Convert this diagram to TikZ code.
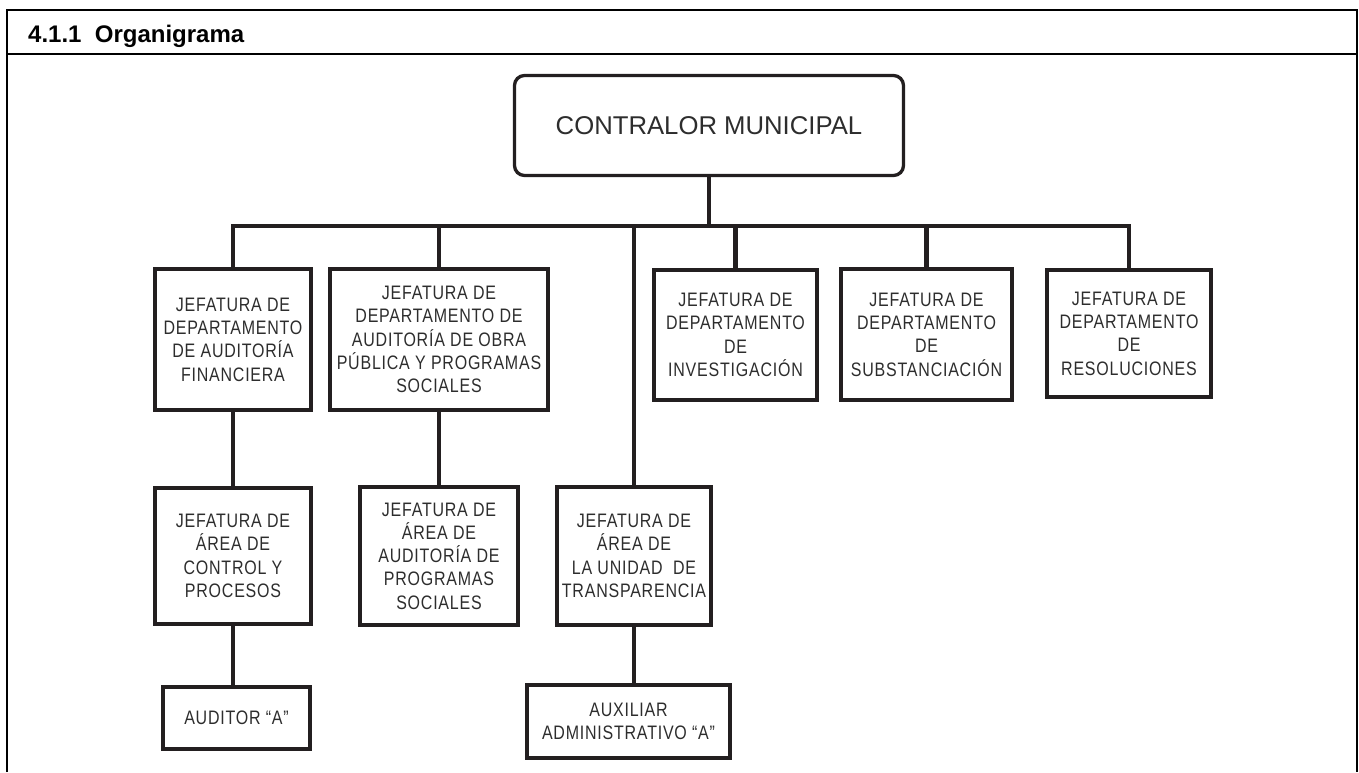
\documentclass[tikz,border=0pt]{standalone}
\usepackage{fontspec}
\setmainfont{Liberation Sans}
\newfontfamily\estrecha[FakeStretch=0.82,LetterSpace=4]{Liberation Sans}
\definecolor{linea}{RGB}{35,31,32}
\definecolor{texto}{RGB}{45,45,45}

\begin{document}
\begin{tikzpicture}[x=1pt,y=-1pt,
	marco/.style={draw=black,line width=2.7pt},
	rama/.style={draw=linea,line width=4.5pt},
	puesto/.style={draw=linea,line width=4pt,inner sep=0pt,align=center,text=texto,
		font=\estrecha\fontsize{19.5}{23.3}\selectfont},
	titular/.style={puesto,line width=3.3pt,rounded corners=10pt,
		font=\fontsize{25.7}{30}\selectfont}]
\useasboundingbox (0,0) rectangle (1359,772);
\draw[marco] (7,772) -- (7,10) -- (1357,10) -- (1357,772);
\draw[marco] (7,54) -- (1357,54);
\node[anchor=base west,inner sep=0pt,font=\fontsize{24}{28}\selectfont\bfseries] (titulo) at (28,42) {4.1.1~~Organigrama};

\node[titular,minimum width=389pt,minimum height=100pt] (contralor) at (709,125.5) {CONTRALOR MUNICIPAL};

\node[puesto,minimum width=156pt,minimum height=141pt] (financiera) at (233,339.5)
	{JEFATURA DE\\DEPARTAMENTO\\DE AUDITORÍA\\FINANCIERA};
\node[puesto,minimum width=218pt,minimum height=141pt] (obra) at (439,339.5)
	{JEFATURA DE\\DEPARTAMENTO DE\\AUDITORÍA DE OBRA\\PÚBLICA Y PROGRAMAS\\SOCIALES};
\node[puesto,minimum width=163pt,minimum height=130pt] (investigacion) at (735.5,335)
	{JEFATURA DE\\DEPARTAMENTO\\DE\\INVESTIGACIÓN};
\node[puesto,minimum width=171pt,minimum height=131pt] (substanciacion) at (926.5,334.5)
	{JEFATURA DE\\DEPARTAMENTO\\DE\\SUBSTANCIACIÓN};
\node[puesto,minimum width=164pt,minimum height=127pt] (resoluciones) at (1129,333.5)
	{JEFATURA DE\\DEPARTAMENTO\\DE\\RESOLUCIONES};

\node[puesto,minimum width=156pt,minimum height=136pt] (control) at (233,556)
	{JEFATURA DE\\ÁREA DE\\CONTROL Y\\PROCESOS};
\node[puesto,minimum width=158pt,minimum height=138pt] (programas) at (439,556)
	{JEFATURA DE\\ÁREA DE\\AUDITORÍA DE\\PROGRAMAS\\SOCIALES};
\node[puesto,minimum width=154pt,minimum height=138pt] (transparencia) at (634,556)
	{JEFATURA DE\\ÁREA DE\\LA UNIDAD~~DE\\TRANSPARENCIA};

\node[puesto,minimum width=147pt,minimum height=62pt] (auditor) at (236.5,718) {AUDITOR “A”};
\node[puesto,minimum width=203pt,minimum height=73pt] (auxiliar) at (628.5,721.5)
	{AUXILIAR\\ADMINISTRATIVO “A”};

\coordinate (bus) at (709,226);
\draw[rama] (contralor.south) -- (contralor.south |- bus);
\draw[rama] (financiera.north) -- (financiera.north |- bus) -- (resoluciones.north |- bus) -- (resoluciones.north);
\foreach \n in {obra,investigacion,substanciacion,transparencia}
	\draw[rama] (\n.north |- bus) -- (\n.north);
\draw[rama] (financiera) -- (control);
\draw[rama] (obra) -- (programas);
\draw[rama] (control.south) -- (control.south |- auditor.north);
\draw[rama] (transparencia.south) -- (transparencia.south |- auxiliar.north);
\end{tikzpicture}
\end{document}
